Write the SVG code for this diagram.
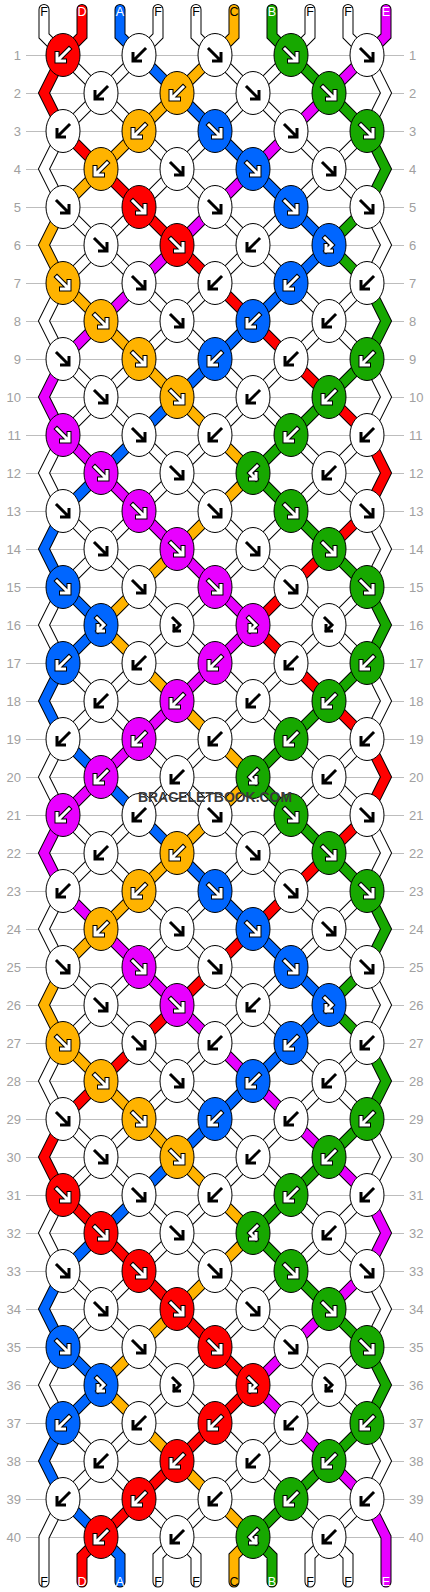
<svg xmlns="http://www.w3.org/2000/svg" xmlns:xlink="http://www.w3.org/1999/xlink" width="430" height="1592" viewBox="0 0 430 1592">
<style>
.rl{fill:none;stroke:#bdbdbd;stroke-width:1}
.num{font-family:"Liberation Sans",Arial,sans-serif;font-size:13px;fill:#a0a0a0}
.nl{text-anchor:end}
.lab{font-family:"Liberation Sans",Arial,sans-serif;font-size:12.5px;text-anchor:middle}
.lk{fill:#000}.lw{fill:#fff}
#strings use{fill:none;stroke-linecap:round;stroke-linejoin:miter}
.so{stroke:#000;stroke-width:11}
.sf{stroke-width:9}
.cW{stroke:#fff}.cR{stroke:#ff0000}.cB{stroke:#0066ff}.cO{stroke:#ffb300}.cG{stroke:#17a800}.cM{stroke:#e800ff}
.R{fill:#ff0000}.B{fill:#0066ff}.O{fill:#ffb300}.G{fill:#17a800}.M{fill:#e800ff}.W{fill:#fff}
#e{stroke:#000;stroke-width:1}
.ak{fill:none;stroke:#000;stroke-width:3;stroke-linecap:square}
.ao{fill:none;stroke:#000;stroke-width:5;stroke-linecap:square}
.aw{fill:none;stroke:#fff;stroke-width:3;stroke-linecap:square}
.wm{font-family:"Liberation Sans",Arial,sans-serif;font-size:15px;font-weight:bold;fill:#3a3a3a;text-anchor:middle}
</style>
<defs>
<ellipse id="e" cx="0" cy="0" rx="17" ry="21.5"/>
<path id="af" d="M-6-6L5 5M6-1.5V6H-1.5"/>
<path id="ab" d="M6-6L-5 5M-6-1.5V6H1.5"/>
<path id="afb" d="M-4-7L3 0L-3 6M-3 0.5V6H2.5"/>
<path id="abf" d="M4-7L-3 0L3 6M3 0.5V6H-2.5"/>
<g id="Kf"><use href="#af" class="ak"/></g>
<g id="Kb"><use href="#ab" class="ak"/></g>
<g id="Kfb"><use href="#afb" class="ak"/></g>
<g id="Kbf"><use href="#abf" class="ak"/></g>
<g id="Wf"><use href="#af" class="ao"/><use href="#af" class="aw"/></g>
<g id="Wb"><use href="#ab" class="ao"/><use href="#ab" class="aw"/></g>
<g id="Wfb"><use href="#afb" class="ao"/><use href="#afb" class="aw"/></g>
<g id="Wbf"><use href="#abf" class="ao"/><use href="#abf" class="aw"/></g>
<path id="s0" d="M44 9.5V36L63 55L101 93L139 131L177 169L215 207L253 245L291 283L329 321L367 359L386 397L367 435L329 473L291 511L253 549L215 587L177 625L215 663L253 701L291 739L329 777L367 815L386 853L367 891L329 929L291 967L253 1005L215 1043L177 1081L139 1119L101 1157L63 1195L44 1233L63 1271L101 1309L139 1347L177 1385L139 1423L101 1461L63 1499L44 1537V1582"/>
<path id="s1" d="M82 9.5V36L63 55L44 93L63 131L101 169L139 207L177 245L215 283L253 321L291 359L329 397L367 435L386 473L367 511L329 549L291 587L253 625L291 663L329 701L367 739L386 777L367 815L329 853L291 891L253 929L215 967L177 1005L139 1043L101 1081L63 1119L44 1157L63 1195L101 1233L139 1271L177 1309L215 1347L253 1385L215 1423L177 1461L139 1499L101 1537L82 1556V1582"/>
<path id="s2" d="M120 9.5V36L139 55L177 93L215 131L253 169L291 207L329 245L291 283L253 321L215 359L177 397L139 435L101 473L63 511L44 549L63 587L101 625L63 663L44 701L63 739L101 777L139 815L177 853L215 891L253 929L291 967L329 1005L291 1043L253 1081L215 1119L177 1157L139 1195L101 1233L63 1271L44 1309L63 1347L101 1385L63 1423L44 1461L63 1499L101 1537L120 1556V1582"/>
<path id="s3" d="M158 9.5V36L139 55L101 93L63 131L44 169L63 207L101 245L139 283L177 321L215 359L253 397L291 435L329 473L367 511L386 549L367 587L329 625L367 663L386 701L367 739L329 777L291 815L253 853L215 891L177 929L139 967L101 1005L63 1043L44 1081L63 1119L101 1157L139 1195L177 1233L215 1271L253 1309L291 1347L329 1385L291 1423L253 1461L215 1499L177 1537L158 1556V1582"/>
<path id="s4" d="M196 9.5V36L215 55L253 93L291 131L329 169L367 207L386 245L367 283L329 321L291 359L253 397L215 435L177 473L139 511L101 549L63 587L44 625L63 663L101 701L139 739L177 777L215 815L253 853L291 891L329 929L367 967L386 1005L367 1043L329 1081L291 1119L253 1157L215 1195L177 1233L139 1271L101 1309L63 1347L44 1385L63 1423L101 1461L139 1499L177 1537L196 1556V1582"/>
<path id="s5" d="M234 9.5V36L215 55L177 93L139 131L101 169L63 207L44 245L63 283L101 321L139 359L177 397L215 435L253 473L215 511L177 549L139 587L101 625L139 663L177 701L215 739L253 777L215 815L177 853L139 891L101 929L63 967L44 1005L63 1043L101 1081L139 1119L177 1157L215 1195L253 1233L215 1271L177 1309L139 1347L101 1385L139 1423L177 1461L215 1499L253 1537L234 1556V1582"/>
<path id="s6" d="M272 9.5V36L291 55L329 93L367 131L386 169L367 207L329 245L367 283L386 321L367 359L329 397L291 435L253 473L291 511L329 549L367 587L386 625L367 663L329 701L291 739L253 777L291 815L329 853L367 891L386 929L367 967L329 1005L367 1043L386 1081L367 1119L329 1157L291 1195L253 1233L291 1271L329 1309L367 1347L386 1385L367 1423L329 1461L291 1499L253 1537L272 1556V1582"/>
<path id="s7" d="M310 9.5V36L291 55L253 93L215 131L177 169L139 207L101 245L63 283L44 321L63 359L101 397L139 435L177 473L215 511L253 549L291 587L329 625L291 663L253 701L215 739L177 777L139 815L101 853L63 891L44 929L63 967L101 1005L139 1043L177 1081L215 1119L253 1157L291 1195L329 1233L367 1271L386 1309L367 1347L329 1385L367 1423L386 1461L367 1499L329 1537L310 1556V1582"/>
<path id="s8" d="M348 9.5V36L367 55L386 93L367 131L329 169L291 207L253 245L215 283L177 321L139 359L101 397L63 435L44 473L63 511L101 549L139 587L177 625L139 663L101 701L63 739L44 777L63 815L101 853L139 891L177 929L215 967L253 1005L291 1043L329 1081L367 1119L386 1157L367 1195L329 1233L291 1271L253 1309L215 1347L177 1385L215 1423L253 1461L291 1499L329 1537L348 1556V1582"/>
<path id="s9" d="M386 9.5V36L367 55L329 93L291 131L253 169L215 207L177 245L139 283L101 321L63 359L44 397L63 435L101 473L139 511L177 549L215 587L253 625L215 663L177 701L139 739L101 777L63 815L44 853L63 891L101 929L139 967L177 1005L215 1043L253 1081L291 1119L329 1157L367 1195L386 1233L367 1271L329 1309L291 1347L253 1385L291 1423L329 1461L367 1499L386 1537V1582"/>
</defs>
<rect width="430" height="1592" fill="#fff"/>
<g id="rowlines">
<path class="rl" shape-rendering="crispEdges" d="M26 55.5H404M26 93.5H404M26 131.5H404M26 169.5H404M26 207.5H404M26 245.5H404M26 283.5H404M26 321.5H404M26 359.5H404M26 397.5H404M26 435.5H404M26 473.5H404M26 511.5H404M26 549.5H404M26 587.5H404M26 625.5H404M26 663.5H404M26 701.5H404M26 739.5H404M26 777.5H404M26 815.5H404M26 853.5H404M26 891.5H404M26 929.5H404M26 967.5H404M26 1005.5H404M26 1043.5H404M26 1081.5H404M26 1119.5H404M26 1157.5H404M26 1195.5H404M26 1233.5H404M26 1271.5H404M26 1309.5H404M26 1347.5H404M26 1385.5H404M26 1423.5H404M26 1461.5H404M26 1499.5H404M26 1537.5H404"/>
</g>
<g id="rownumbers" class="num">
<text class="nl" x="21" y="60">1</text><text x="409" y="60">1</text>
<text class="nl" x="21" y="98">2</text><text x="409" y="98">2</text>
<text class="nl" x="21" y="136">3</text><text x="409" y="136">3</text>
<text class="nl" x="21" y="174">4</text><text x="409" y="174">4</text>
<text class="nl" x="21" y="212">5</text><text x="409" y="212">5</text>
<text class="nl" x="21" y="250">6</text><text x="409" y="250">6</text>
<text class="nl" x="21" y="288">7</text><text x="409" y="288">7</text>
<text class="nl" x="21" y="326">8</text><text x="409" y="326">8</text>
<text class="nl" x="21" y="364">9</text><text x="409" y="364">9</text>
<text class="nl" x="21" y="402">10</text><text x="409" y="402">10</text>
<text class="nl" x="21" y="440">11</text><text x="409" y="440">11</text>
<text class="nl" x="21" y="478">12</text><text x="409" y="478">12</text>
<text class="nl" x="21" y="516">13</text><text x="409" y="516">13</text>
<text class="nl" x="21" y="554">14</text><text x="409" y="554">14</text>
<text class="nl" x="21" y="592">15</text><text x="409" y="592">15</text>
<text class="nl" x="21" y="630">16</text><text x="409" y="630">16</text>
<text class="nl" x="21" y="668">17</text><text x="409" y="668">17</text>
<text class="nl" x="21" y="706">18</text><text x="409" y="706">18</text>
<text class="nl" x="21" y="744">19</text><text x="409" y="744">19</text>
<text class="nl" x="21" y="782">20</text><text x="409" y="782">20</text>
<text class="nl" x="21" y="820">21</text><text x="409" y="820">21</text>
<text class="nl" x="21" y="858">22</text><text x="409" y="858">22</text>
<text class="nl" x="21" y="896">23</text><text x="409" y="896">23</text>
<text class="nl" x="21" y="934">24</text><text x="409" y="934">24</text>
<text class="nl" x="21" y="972">25</text><text x="409" y="972">25</text>
<text class="nl" x="21" y="1010">26</text><text x="409" y="1010">26</text>
<text class="nl" x="21" y="1048">27</text><text x="409" y="1048">27</text>
<text class="nl" x="21" y="1086">28</text><text x="409" y="1086">28</text>
<text class="nl" x="21" y="1124">29</text><text x="409" y="1124">29</text>
<text class="nl" x="21" y="1162">30</text><text x="409" y="1162">30</text>
<text class="nl" x="21" y="1200">31</text><text x="409" y="1200">31</text>
<text class="nl" x="21" y="1238">32</text><text x="409" y="1238">32</text>
<text class="nl" x="21" y="1276">33</text><text x="409" y="1276">33</text>
<text class="nl" x="21" y="1314">34</text><text x="409" y="1314">34</text>
<text class="nl" x="21" y="1352">35</text><text x="409" y="1352">35</text>
<text class="nl" x="21" y="1390">36</text><text x="409" y="1390">36</text>
<text class="nl" x="21" y="1428">37</text><text x="409" y="1428">37</text>
<text class="nl" x="21" y="1466">38</text><text x="409" y="1466">38</text>
<text class="nl" x="21" y="1504">39</text><text x="409" y="1504">39</text>
<text class="nl" x="21" y="1542">40</text><text x="409" y="1542">40</text>
</g>
<g id="strings">
<use href="#s0" class="so"/><use href="#s1" class="so"/><use href="#s2" class="so"/><use href="#s3" class="so"/><use href="#s4" class="so"/><use href="#s5" class="so"/><use href="#s6" class="so"/><use href="#s7" class="so"/><use href="#s8" class="so"/><use href="#s9" class="so"/>
<use href="#s0" class="sf cW"/><use href="#s1" class="sf cR"/><use href="#s2" class="sf cB"/><use href="#s3" class="sf cW"/><use href="#s4" class="sf cW"/><use href="#s5" class="sf cO"/><use href="#s6" class="sf cG"/><use href="#s7" class="sf cW"/><use href="#s8" class="sf cW"/><use href="#s9" class="sf cM"/>
</g>
<g id="labels" class="lab">
<text class="lk" x="44" y="16">F</text><text class="lw" x="82" y="16">D</text><text class="lw" x="120" y="16">A</text><text class="lk" x="158" y="16">F</text><text class="lk" x="196" y="16">F</text><text class="lk" x="234" y="16">C</text><text class="lw" x="272" y="16">B</text><text class="lk" x="310" y="16">F</text><text class="lk" x="348" y="16">F</text><text class="lw" x="386" y="16">E</text>
<text class="lk" x="44" y="1586">F</text><text class="lw" x="82" y="1586">D</text><text class="lw" x="120" y="1586">A</text><text class="lk" x="158" y="1586">F</text><text class="lk" x="196" y="1586">F</text><text class="lk" x="234" y="1586">C</text><text class="lw" x="272" y="1586">B</text><text class="lk" x="310" y="1586">F</text><text class="lk" x="348" y="1586">F</text><text class="lw" x="386" y="1586">E</text>
</g>
<g id="knots">
<g id="n1-1" transform="translate(63,55)"><use href="#e" class="R"/><use href="#Wb"/></g>
<g id="n1-2" transform="translate(139,55)"><use href="#e" class="W"/><use href="#Kb"/></g>
<g id="n1-3" transform="translate(215,55)"><use href="#e" class="W"/><use href="#Kf"/></g>
<g id="n1-4" transform="translate(291,55)"><use href="#e" class="G"/><use href="#Wf"/></g>
<g id="n1-5" transform="translate(367,55)"><use href="#e" class="W"/><use href="#Kf"/></g>
<g id="n2-1" transform="translate(101,93)"><use href="#e" class="W"/><use href="#Kb"/></g>
<g id="n2-2" transform="translate(177,93)"><use href="#e" class="O"/><use href="#Wb"/></g>
<g id="n2-3" transform="translate(253,93)"><use href="#e" class="W"/><use href="#Kf"/></g>
<g id="n2-4" transform="translate(329,93)"><use href="#e" class="G"/><use href="#Wf"/></g>
<g id="n3-1" transform="translate(63,131)"><use href="#e" class="W"/><use href="#Kb"/></g>
<g id="n3-2" transform="translate(139,131)"><use href="#e" class="O"/><use href="#Wb"/></g>
<g id="n3-3" transform="translate(215,131)"><use href="#e" class="B"/><use href="#Wf"/></g>
<g id="n3-4" transform="translate(291,131)"><use href="#e" class="W"/><use href="#Kf"/></g>
<g id="n3-5" transform="translate(367,131)"><use href="#e" class="G"/><use href="#Wf"/></g>
<g id="n4-1" transform="translate(101,169)"><use href="#e" class="O"/><use href="#Wb"/></g>
<g id="n4-2" transform="translate(177,169)"><use href="#e" class="W"/><use href="#Kf"/></g>
<g id="n4-3" transform="translate(253,169)"><use href="#e" class="B"/><use href="#Wf"/></g>
<g id="n4-4" transform="translate(329,169)"><use href="#e" class="W"/><use href="#Kf"/></g>
<g id="n5-1" transform="translate(63,207)"><use href="#e" class="W"/><use href="#Kf"/></g>
<g id="n5-2" transform="translate(139,207)"><use href="#e" class="R"/><use href="#Wf"/></g>
<g id="n5-3" transform="translate(215,207)"><use href="#e" class="W"/><use href="#Kf"/></g>
<g id="n5-4" transform="translate(291,207)"><use href="#e" class="B"/><use href="#Wf"/></g>
<g id="n5-5" transform="translate(367,207)"><use href="#e" class="W"/><use href="#Kf"/></g>
<g id="n6-1" transform="translate(101,245)"><use href="#e" class="W"/><use href="#Kf"/></g>
<g id="n6-2" transform="translate(177,245)"><use href="#e" class="R"/><use href="#Wf"/></g>
<g id="n6-3" transform="translate(253,245)"><use href="#e" class="W"/><use href="#Kb"/></g>
<g id="n6-4" transform="translate(329,245)"><use href="#e" class="B"/><use href="#Wfb"/></g>
<g id="n7-1" transform="translate(63,283)"><use href="#e" class="O"/><use href="#Wf"/></g>
<g id="n7-2" transform="translate(139,283)"><use href="#e" class="W"/><use href="#Kf"/></g>
<g id="n7-3" transform="translate(215,283)"><use href="#e" class="W"/><use href="#Kb"/></g>
<g id="n7-4" transform="translate(291,283)"><use href="#e" class="B"/><use href="#Wb"/></g>
<g id="n7-5" transform="translate(367,283)"><use href="#e" class="W"/><use href="#Kb"/></g>
<g id="n8-1" transform="translate(101,321)"><use href="#e" class="O"/><use href="#Wf"/></g>
<g id="n8-2" transform="translate(177,321)"><use href="#e" class="W"/><use href="#Kf"/></g>
<g id="n8-3" transform="translate(253,321)"><use href="#e" class="B"/><use href="#Wb"/></g>
<g id="n8-4" transform="translate(329,321)"><use href="#e" class="W"/><use href="#Kb"/></g>
<g id="n9-1" transform="translate(63,359)"><use href="#e" class="W"/><use href="#Kf"/></g>
<g id="n9-2" transform="translate(139,359)"><use href="#e" class="O"/><use href="#Wf"/></g>
<g id="n9-3" transform="translate(215,359)"><use href="#e" class="B"/><use href="#Wb"/></g>
<g id="n9-4" transform="translate(291,359)"><use href="#e" class="W"/><use href="#Kb"/></g>
<g id="n9-5" transform="translate(367,359)"><use href="#e" class="G"/><use href="#Wb"/></g>
<g id="n10-1" transform="translate(101,397)"><use href="#e" class="W"/><use href="#Kf"/></g>
<g id="n10-2" transform="translate(177,397)"><use href="#e" class="O"/><use href="#Wf"/></g>
<g id="n10-3" transform="translate(253,397)"><use href="#e" class="W"/><use href="#Kb"/></g>
<g id="n10-4" transform="translate(329,397)"><use href="#e" class="G"/><use href="#Wb"/></g>
<g id="n11-1" transform="translate(63,435)"><use href="#e" class="M"/><use href="#Wf"/></g>
<g id="n11-2" transform="translate(139,435)"><use href="#e" class="W"/><use href="#Kf"/></g>
<g id="n11-3" transform="translate(215,435)"><use href="#e" class="W"/><use href="#Kb"/></g>
<g id="n11-4" transform="translate(291,435)"><use href="#e" class="G"/><use href="#Wb"/></g>
<g id="n11-5" transform="translate(367,435)"><use href="#e" class="W"/><use href="#Kb"/></g>
<g id="n12-1" transform="translate(101,473)"><use href="#e" class="M"/><use href="#Wf"/></g>
<g id="n12-2" transform="translate(177,473)"><use href="#e" class="W"/><use href="#Kf"/></g>
<g id="n12-3" transform="translate(253,473)"><use href="#e" class="G"/><use href="#Wbf"/></g>
<g id="n12-4" transform="translate(329,473)"><use href="#e" class="W"/><use href="#Kb"/></g>
<g id="n13-1" transform="translate(63,511)"><use href="#e" class="W"/><use href="#Kf"/></g>
<g id="n13-2" transform="translate(139,511)"><use href="#e" class="M"/><use href="#Wf"/></g>
<g id="n13-3" transform="translate(215,511)"><use href="#e" class="W"/><use href="#Kf"/></g>
<g id="n13-4" transform="translate(291,511)"><use href="#e" class="G"/><use href="#Wf"/></g>
<g id="n13-5" transform="translate(367,511)"><use href="#e" class="W"/><use href="#Kf"/></g>
<g id="n14-1" transform="translate(101,549)"><use href="#e" class="W"/><use href="#Kf"/></g>
<g id="n14-2" transform="translate(177,549)"><use href="#e" class="M"/><use href="#Wf"/></g>
<g id="n14-3" transform="translate(253,549)"><use href="#e" class="W"/><use href="#Kf"/></g>
<g id="n14-4" transform="translate(329,549)"><use href="#e" class="G"/><use href="#Wf"/></g>
<g id="n15-1" transform="translate(63,587)"><use href="#e" class="B"/><use href="#Wf"/></g>
<g id="n15-2" transform="translate(139,587)"><use href="#e" class="W"/><use href="#Kf"/></g>
<g id="n15-3" transform="translate(215,587)"><use href="#e" class="M"/><use href="#Wf"/></g>
<g id="n15-4" transform="translate(291,587)"><use href="#e" class="W"/><use href="#Kf"/></g>
<g id="n15-5" transform="translate(367,587)"><use href="#e" class="G"/><use href="#Wf"/></g>
<g id="n16-1" transform="translate(101,625)"><use href="#e" class="B"/><use href="#Wfb"/></g>
<g id="n16-2" transform="translate(177,625)"><use href="#e" class="W"/><use href="#Kfb"/></g>
<g id="n16-3" transform="translate(253,625)"><use href="#e" class="M"/><use href="#Wfb"/></g>
<g id="n16-4" transform="translate(329,625)"><use href="#e" class="W"/><use href="#Kfb"/></g>
<g id="n17-1" transform="translate(63,663)"><use href="#e" class="B"/><use href="#Wb"/></g>
<g id="n17-2" transform="translate(139,663)"><use href="#e" class="W"/><use href="#Kb"/></g>
<g id="n17-3" transform="translate(215,663)"><use href="#e" class="M"/><use href="#Wb"/></g>
<g id="n17-4" transform="translate(291,663)"><use href="#e" class="W"/><use href="#Kb"/></g>
<g id="n17-5" transform="translate(367,663)"><use href="#e" class="G"/><use href="#Wb"/></g>
<g id="n18-1" transform="translate(101,701)"><use href="#e" class="W"/><use href="#Kb"/></g>
<g id="n18-2" transform="translate(177,701)"><use href="#e" class="M"/><use href="#Wb"/></g>
<g id="n18-3" transform="translate(253,701)"><use href="#e" class="W"/><use href="#Kb"/></g>
<g id="n18-4" transform="translate(329,701)"><use href="#e" class="G"/><use href="#Wb"/></g>
<g id="n19-1" transform="translate(63,739)"><use href="#e" class="W"/><use href="#Kb"/></g>
<g id="n19-2" transform="translate(139,739)"><use href="#e" class="M"/><use href="#Wb"/></g>
<g id="n19-3" transform="translate(215,739)"><use href="#e" class="W"/><use href="#Kb"/></g>
<g id="n19-4" transform="translate(291,739)"><use href="#e" class="G"/><use href="#Wb"/></g>
<g id="n19-5" transform="translate(367,739)"><use href="#e" class="W"/><use href="#Kb"/></g>
<g id="n20-1" transform="translate(101,777)"><use href="#e" class="M"/><use href="#Wb"/></g>
<g id="n20-2" transform="translate(177,777)"><use href="#e" class="W"/><use href="#Kb"/></g>
<g id="n20-3" transform="translate(253,777)"><use href="#e" class="G"/><use href="#Wbf"/></g>
<g id="n20-4" transform="translate(329,777)"><use href="#e" class="W"/><use href="#Kb"/></g>
<g id="n21-1" transform="translate(63,815)"><use href="#e" class="M"/><use href="#Wb"/></g>
<g id="n21-2" transform="translate(139,815)"><use href="#e" class="W"/><use href="#Kb"/></g>
<g id="n21-3" transform="translate(215,815)"><use href="#e" class="W"/><use href="#Kf"/></g>
<g id="n21-4" transform="translate(291,815)"><use href="#e" class="G"/><use href="#Wf"/></g>
<g id="n21-5" transform="translate(367,815)"><use href="#e" class="W"/><use href="#Kf"/></g>
<g id="n22-1" transform="translate(101,853)"><use href="#e" class="W"/><use href="#Kb"/></g>
<g id="n22-2" transform="translate(177,853)"><use href="#e" class="O"/><use href="#Wb"/></g>
<g id="n22-3" transform="translate(253,853)"><use href="#e" class="W"/><use href="#Kf"/></g>
<g id="n22-4" transform="translate(329,853)"><use href="#e" class="G"/><use href="#Wf"/></g>
<g id="n23-1" transform="translate(63,891)"><use href="#e" class="W"/><use href="#Kb"/></g>
<g id="n23-2" transform="translate(139,891)"><use href="#e" class="O"/><use href="#Wb"/></g>
<g id="n23-3" transform="translate(215,891)"><use href="#e" class="B"/><use href="#Wf"/></g>
<g id="n23-4" transform="translate(291,891)"><use href="#e" class="W"/><use href="#Kf"/></g>
<g id="n23-5" transform="translate(367,891)"><use href="#e" class="G"/><use href="#Wf"/></g>
<g id="n24-1" transform="translate(101,929)"><use href="#e" class="O"/><use href="#Wb"/></g>
<g id="n24-2" transform="translate(177,929)"><use href="#e" class="W"/><use href="#Kf"/></g>
<g id="n24-3" transform="translate(253,929)"><use href="#e" class="B"/><use href="#Wf"/></g>
<g id="n24-4" transform="translate(329,929)"><use href="#e" class="W"/><use href="#Kf"/></g>
<g id="n25-1" transform="translate(63,967)"><use href="#e" class="W"/><use href="#Kf"/></g>
<g id="n25-2" transform="translate(139,967)"><use href="#e" class="M"/><use href="#Wf"/></g>
<g id="n25-3" transform="translate(215,967)"><use href="#e" class="W"/><use href="#Kf"/></g>
<g id="n25-4" transform="translate(291,967)"><use href="#e" class="B"/><use href="#Wf"/></g>
<g id="n25-5" transform="translate(367,967)"><use href="#e" class="W"/><use href="#Kf"/></g>
<g id="n26-1" transform="translate(101,1005)"><use href="#e" class="W"/><use href="#Kf"/></g>
<g id="n26-2" transform="translate(177,1005)"><use href="#e" class="M"/><use href="#Wf"/></g>
<g id="n26-3" transform="translate(253,1005)"><use href="#e" class="W"/><use href="#Kb"/></g>
<g id="n26-4" transform="translate(329,1005)"><use href="#e" class="B"/><use href="#Wfb"/></g>
<g id="n27-1" transform="translate(63,1043)"><use href="#e" class="O"/><use href="#Wf"/></g>
<g id="n27-2" transform="translate(139,1043)"><use href="#e" class="W"/><use href="#Kf"/></g>
<g id="n27-3" transform="translate(215,1043)"><use href="#e" class="W"/><use href="#Kb"/></g>
<g id="n27-4" transform="translate(291,1043)"><use href="#e" class="B"/><use href="#Wb"/></g>
<g id="n27-5" transform="translate(367,1043)"><use href="#e" class="W"/><use href="#Kb"/></g>
<g id="n28-1" transform="translate(101,1081)"><use href="#e" class="O"/><use href="#Wf"/></g>
<g id="n28-2" transform="translate(177,1081)"><use href="#e" class="W"/><use href="#Kf"/></g>
<g id="n28-3" transform="translate(253,1081)"><use href="#e" class="B"/><use href="#Wb"/></g>
<g id="n28-4" transform="translate(329,1081)"><use href="#e" class="W"/><use href="#Kb"/></g>
<g id="n29-1" transform="translate(63,1119)"><use href="#e" class="W"/><use href="#Kf"/></g>
<g id="n29-2" transform="translate(139,1119)"><use href="#e" class="O"/><use href="#Wf"/></g>
<g id="n29-3" transform="translate(215,1119)"><use href="#e" class="B"/><use href="#Wb"/></g>
<g id="n29-4" transform="translate(291,1119)"><use href="#e" class="W"/><use href="#Kb"/></g>
<g id="n29-5" transform="translate(367,1119)"><use href="#e" class="G"/><use href="#Wb"/></g>
<g id="n30-1" transform="translate(101,1157)"><use href="#e" class="W"/><use href="#Kf"/></g>
<g id="n30-2" transform="translate(177,1157)"><use href="#e" class="O"/><use href="#Wf"/></g>
<g id="n30-3" transform="translate(253,1157)"><use href="#e" class="W"/><use href="#Kb"/></g>
<g id="n30-4" transform="translate(329,1157)"><use href="#e" class="G"/><use href="#Wb"/></g>
<g id="n31-1" transform="translate(63,1195)"><use href="#e" class="R"/><use href="#Wf"/></g>
<g id="n31-2" transform="translate(139,1195)"><use href="#e" class="W"/><use href="#Kf"/></g>
<g id="n31-3" transform="translate(215,1195)"><use href="#e" class="W"/><use href="#Kb"/></g>
<g id="n31-4" transform="translate(291,1195)"><use href="#e" class="G"/><use href="#Wb"/></g>
<g id="n31-5" transform="translate(367,1195)"><use href="#e" class="W"/><use href="#Kb"/></g>
<g id="n32-1" transform="translate(101,1233)"><use href="#e" class="R"/><use href="#Wf"/></g>
<g id="n32-2" transform="translate(177,1233)"><use href="#e" class="W"/><use href="#Kf"/></g>
<g id="n32-3" transform="translate(253,1233)"><use href="#e" class="G"/><use href="#Wbf"/></g>
<g id="n32-4" transform="translate(329,1233)"><use href="#e" class="W"/><use href="#Kb"/></g>
<g id="n33-1" transform="translate(63,1271)"><use href="#e" class="W"/><use href="#Kf"/></g>
<g id="n33-2" transform="translate(139,1271)"><use href="#e" class="R"/><use href="#Wf"/></g>
<g id="n33-3" transform="translate(215,1271)"><use href="#e" class="W"/><use href="#Kf"/></g>
<g id="n33-4" transform="translate(291,1271)"><use href="#e" class="G"/><use href="#Wf"/></g>
<g id="n33-5" transform="translate(367,1271)"><use href="#e" class="W"/><use href="#Kf"/></g>
<g id="n34-1" transform="translate(101,1309)"><use href="#e" class="W"/><use href="#Kf"/></g>
<g id="n34-2" transform="translate(177,1309)"><use href="#e" class="R"/><use href="#Wf"/></g>
<g id="n34-3" transform="translate(253,1309)"><use href="#e" class="W"/><use href="#Kf"/></g>
<g id="n34-4" transform="translate(329,1309)"><use href="#e" class="G"/><use href="#Wf"/></g>
<g id="n35-1" transform="translate(63,1347)"><use href="#e" class="B"/><use href="#Wf"/></g>
<g id="n35-2" transform="translate(139,1347)"><use href="#e" class="W"/><use href="#Kf"/></g>
<g id="n35-3" transform="translate(215,1347)"><use href="#e" class="R"/><use href="#Wf"/></g>
<g id="n35-4" transform="translate(291,1347)"><use href="#e" class="W"/><use href="#Kf"/></g>
<g id="n35-5" transform="translate(367,1347)"><use href="#e" class="G"/><use href="#Wf"/></g>
<g id="n36-1" transform="translate(101,1385)"><use href="#e" class="B"/><use href="#Wfb"/></g>
<g id="n36-2" transform="translate(177,1385)"><use href="#e" class="W"/><use href="#Kfb"/></g>
<g id="n36-3" transform="translate(253,1385)"><use href="#e" class="R"/><use href="#Wfb"/></g>
<g id="n36-4" transform="translate(329,1385)"><use href="#e" class="W"/><use href="#Kfb"/></g>
<g id="n37-1" transform="translate(63,1423)"><use href="#e" class="B"/><use href="#Wb"/></g>
<g id="n37-2" transform="translate(139,1423)"><use href="#e" class="W"/><use href="#Kb"/></g>
<g id="n37-3" transform="translate(215,1423)"><use href="#e" class="R"/><use href="#Wb"/></g>
<g id="n37-4" transform="translate(291,1423)"><use href="#e" class="W"/><use href="#Kb"/></g>
<g id="n37-5" transform="translate(367,1423)"><use href="#e" class="G"/><use href="#Wb"/></g>
<g id="n38-1" transform="translate(101,1461)"><use href="#e" class="W"/><use href="#Kb"/></g>
<g id="n38-2" transform="translate(177,1461)"><use href="#e" class="R"/><use href="#Wb"/></g>
<g id="n38-3" transform="translate(253,1461)"><use href="#e" class="W"/><use href="#Kb"/></g>
<g id="n38-4" transform="translate(329,1461)"><use href="#e" class="G"/><use href="#Wb"/></g>
<g id="n39-1" transform="translate(63,1499)"><use href="#e" class="W"/><use href="#Kb"/></g>
<g id="n39-2" transform="translate(139,1499)"><use href="#e" class="R"/><use href="#Wb"/></g>
<g id="n39-3" transform="translate(215,1499)"><use href="#e" class="W"/><use href="#Kb"/></g>
<g id="n39-4" transform="translate(291,1499)"><use href="#e" class="G"/><use href="#Wb"/></g>
<g id="n39-5" transform="translate(367,1499)"><use href="#e" class="W"/><use href="#Kb"/></g>
<g id="n40-1" transform="translate(101,1537)"><use href="#e" class="R"/><use href="#Wb"/></g>
<g id="n40-2" transform="translate(177,1537)"><use href="#e" class="W"/><use href="#Kb"/></g>
<g id="n40-3" transform="translate(253,1537)"><use href="#e" class="G"/><use href="#Wbf"/></g>
<g id="n40-4" transform="translate(329,1537)"><use href="#e" class="W"/><use href="#Kb"/></g>
</g>
<text class="wm" x="215" y="802" textLength="154" lengthAdjust="spacingAndGlyphs">BRACELETBOOK.COM</text>
</svg>
